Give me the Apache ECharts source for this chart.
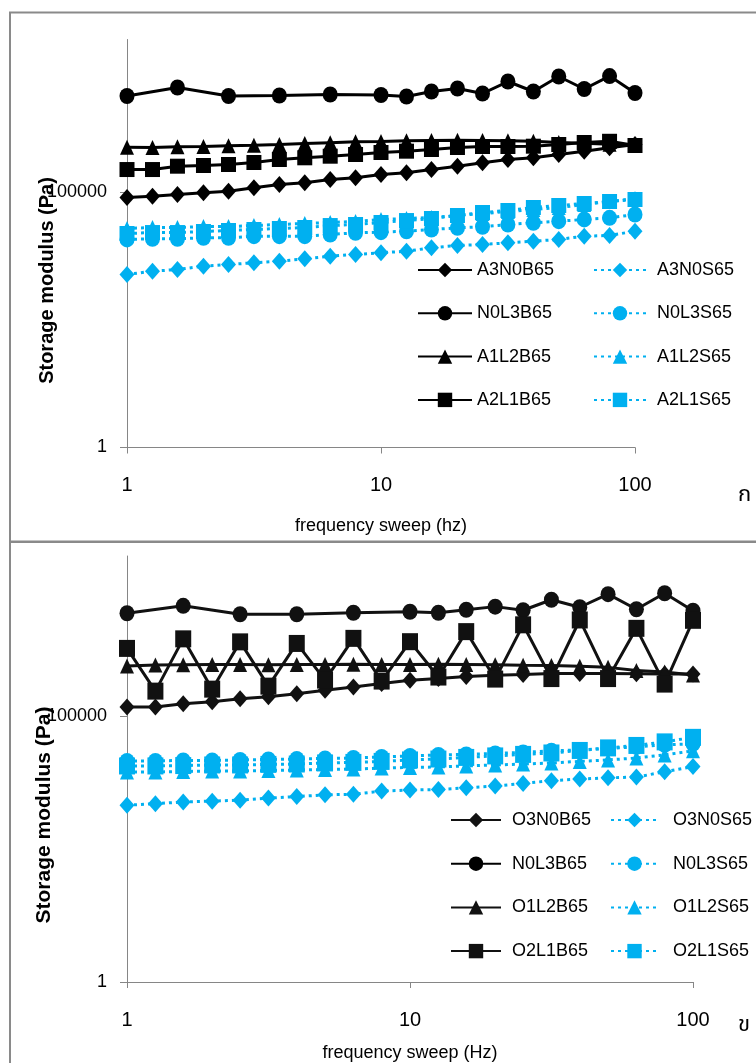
<!DOCTYPE html>
<html>
<head>
<meta charset="utf-8">
<script src="https://cdn.jsdelivr.net/npm/echarts@6/dist/echarts.min.js"></script>
<style>
html,body{margin:0;padding:0;background:#fff;}
#c{width:756px;height:1063px;}
</style>
</head>
<body>
<div id="c"></div>
<script>
// frequency points (Hz)
const freq = [1, 1.26, 1.58, 2, 2.51, 3.16, 3.98, 5.01, 6.31, 7.94, 10, 12.6, 15.8, 20, 25.1, 31.6, 39.8, 50.1, 63.1, 79.4, 100];
const xTicks = [1, 10, 100];
const yTicks = [1, 100000];

// ---- chart ก (top) ----
const A3N0B65 = [79800, 84600, 91400, 98700, 106000, 124000, 144000, 155000, 180000, 194000, 225000, 243000, 282000, 328000, 382000, 444000, 479000, 556000, 646000, 752000, 874000];
const A3N0S65 = [2470, 2860, 3090, 3590, 3870, 4190, 4500, 5010, 5640, 6090, 6570, 7060, 8240, 9140, 9550, 10300, 11100, 12000, 13900, 14400, 17400];
const N0L3B65 = [7800000, null, 11450000, null, 7800000, null, 7980000, null, 8350000, null, 8160000, 7630000, 9550000, 10940000, 8740000, 15000000, 9550000, 18800000, 10700000, 19200000, 8930000];
const N0L3S65 = [12000, 12400, 12400, 12900, 12900, 13900, 13900, 13900, 15000, 16200, 16700, 17400, 18800, 20300, 21300, 23600, 25500, 27400, 29600, 31900, 37000];
const A1L2B65 = [770000, 760000, 790000, 800000, 830000, 840000, 870000, 910000, 950000, 990000, 1000000, 1040000, 1050000, 1060000, 1050000, 1040000, 1010000, 960000, 920000, 880000, 850000];
const A1L2S65 = [19700, 20600, 20600, 21500, 21500, 22500, 23600, 24700, 25800, 27000, 29600, 30900, 32400, 35400, 38700, 42400, 46400, 50800, 58200, 66600, 76300];
const A2L1B65 = [282000, 282000, 328000, 338000, 354000, 387000, 444000, 479000, 515000, 556000, 608000, 646000, 697000, 763000, 798000, 798000, 809000, 874000, 955000, 1010000, 835000];
const A2L1S65 = [15700, 16400, 16400, 17200, 18000, 18800, 19700, 20600, 22500, 23600, 25800, 28200, 30900, 35400, 40500, 44400, 50800, 55600, 60800, 66600, 72900];

// ---- chart ข (bottom) ----
const O3N0B65 = [146000, 146000, 168000, 184000, 209000, 228000, 260000, 300000, 348000, 402000, 463000, 499000, 544000, 576000, 594000, 620000, 620000, 620000, 615000, 610000, 605000];
const O3N0S65 = [2090, 2230, 2410, 2490, 2600, 2840, 3030, 3270, 3350, 3850, 4020, 4120, 4440, 4780, 5350, 6040, 6470, 6820, 7060, 8850, 11100];
const N0L3B65b = [8410000, null, 11600000, null, 8050000, null, 8050000, null, 8590000, null, 8980000, 8590000, 9790000, 11200000, 9580000, 15100000, 10900000, 19200000, 10000000, 20000000, 9370000];
const N0L3S65b = [14200, 14200, 14500, 14500, 14800, 15100, 15400, 15800, 16100, 16800, 17600, 18400, 18800, 19600, 20500, 21900, 22800, 24400, 26000, 28400, 29600];
const O1L2B65 = [860000, 900000, 910000, 920000, 920000, 910000, 920000, 920000, 930000, 920000, 920000, 930000, 920000, 910000, 890000, 880000, 850000, 810000, 710000, 660000, 580000];
const O1L2S65 = [8770, 8770, 8970, 9170, 9170, 9370, 9580, 9790, 10000, 10400, 10700, 10900, 11400, 11900, 12400, 13000, 13900, 14800, 16100, 18400, 21900];
const O2L1B65 = [1840000, 290000, 2780000, 316000, 2440000, 360000, 2280000, 468000, 2840000, 448000, 2460000, 533000, 3800000, 488000, 5100000, 499000, 6290000, 499000, 4380000, 393000, 6200000];
const O2L1S65 = [11400, 11400, 11600, 11900, 11900, 12200, 12400, 13000, 13300, 13900, 14800, 15400, 16500, 17600, 18800, 20000, 22300, 24900, 27700, 32300, 39300];

const legendTopB = ['A3N0B65','N0L3B65','A1L2B65','A2L1B65'];
const legendTopS = ['A3N0S65','N0L3S65','A1L2S65','A2L1S65'];
const legendBotB = ['O3N0B65','N0L3B65','O1L2B65','O2L1B65'];
const legendBotS = ['O3N0S65','N0L3S65','O1L2S65','O2L1S65'];

const FONT = '"Liberation Sans", Arial, sans-serif';
const BLUE = '#00B0F0';

function pairs(vals) {
  return freq.map((f, i) => vals[i] == null ? null : [f, vals[i]]).filter(Boolean);
}

const markers = {
  diamond: {symbol: 'diamond', size: [15, 17]},
  circle: {symbol: 'circle', size: [15, 16]},
  triangle: {symbol: 'triangle', size: [14, 15]},
  rect: {symbol: 'rect', size: [15, 15]}
};

function mkSeries(name, vals, shape, blue, g, bigger) {
  const m = markers[shape];
  let sz = m.size;
  if (bigger && shape === 'rect') sz = [16, 17];
  const black = g === 0 ? '#000' : '#111';
  return {
    name: name,
    type: 'line',
    xAxisIndex: g,
    yAxisIndex: g,
    data: pairs(vals),
    symbol: m.symbol,
    symbolSize: sz,
    showSymbol: true,
    animation: false,
    z: blue ? 2 : 3,
    lineStyle: blue ? {color: BLUE, width: 3, type: [3, 4]} : {color: black, width: 3, type: 'solid'},
    itemStyle: {color: blue ? BLUE : black},
    emphasis: {disabled: true}
  };
}

const series = [
  mkSeries('A3N0B65', A3N0B65, 'diamond', false, 0),
  mkSeries('A3N0S65', A3N0S65, 'diamond', true, 0),
  mkSeries('N0L3B65', N0L3B65, 'circle', false, 0),
  mkSeries('N0L3S65', N0L3S65, 'circle', true, 0),
  mkSeries('A1L2B65', A1L2B65, 'triangle', false, 0),
  mkSeries('A1L2S65', A1L2S65, 'triangle', true, 0),
  mkSeries('A2L1B65', A2L1B65, 'rect', false, 0),
  mkSeries('A2L1S65', A2L1S65, 'rect', true, 0),
  mkSeries('O3N0B65', O3N0B65, 'diamond', false, 1),
  mkSeries('O3N0S65', O3N0S65, 'diamond', true, 1),
  mkSeries('N0L3B65', N0L3B65b, 'circle', false, 1),
  mkSeries('N0L3S65', N0L3S65b, 'circle', true, 1),
  mkSeries('O1L2B65', O1L2B65, 'triangle', false, 1),
  mkSeries('O1L2S65', O1L2S65, 'triangle', true, 1),
  mkSeries('O2L1B65', O2L1B65, 'rect', false, 1, true),
  mkSeries('O2L1S65', O2L1S65, 'rect', true, 1, true)
];

const axisLineStyle = {color: '#868686', width: 1};

function xAx(g, name, gap) {
  return {
    gridIndex: g, type: 'log', logBase: 10, min: 1, max: 100,
    axisLine: {show: true, lineStyle: axisLineStyle},
    axisTick: {show: true, length: 6, lineStyle: axisLineStyle, customValues: xTicks},
    axisLabel: {fontSize: 20, color: '#000', fontFamily: FONT, margin: 28, customValues: xTicks,
      formatter: v => String(Math.round(v))},
    splitLine: {show: false}, minorTick: {show: false}, minorSplitLine: {show: false},
    name: name, nameLocation: 'middle', nameGap: gap, nameMoveOverlap: false,
    nameTextStyle: {fontSize: 18, color: '#000', fontFamily: FONT}
  };
}
function yAx(g, gap, shift, fs) {
  return {
    gridIndex: g, type: 'log', logBase: 100000, min: 1, max: 100000000,
    axisLine: {show: true, lineStyle: axisLineStyle},
    axisTick: {show: true, length: 7, lineStyle: axisLineStyle, customValues: yTicks},
    axisLabel: {fontSize: 18, color: '#000', fontFamily: FONT, margin: 20, customValues: yTicks,
      formatter: v => String(Math.round(v))},
    splitLine: {show: false}, minorTick: {show: false}, minorSplitLine: {show: false},
    name: 'Storage modulus (Pa)', nameLocation: 'middle', nameGap: gap, nameMoveOverlap: false,
    nameTextStyle: {fontSize: fs, fontWeight: 'bold', color: '#000', fontFamily: FONT, padding: [0, shift, 0, 0]}
  };
}

function legendCol(names, left, top, w, gap, textPad) {
  return {
    orient: 'vertical', left: left, top: top, padding: 0,
    itemWidth: w, itemHeight: 18, itemGap: gap,
    selectedMode: false,
    data: names,
    textStyle: {fontSize: 18, color: '#000', fontFamily: FONT, padding: [0, 0, 0, textPad]}
  };
}

const option = {
  backgroundColor: '#fff',
  animation: false,
  grid: [
    {left: 127, top: 39.5, width: 508, height: 408},
    {left: 127, top: 556, width: 566, height: 426}
  ],
  xAxis: [xAx(0, 'frequency sweep (hz)', 70), xAx(1, 'frequency sweep (Hz)', 62)],
  yAxis: [yAx(0, 70, 74, 20), yAx(1, 72, 92, 21)],
  legend: [
    legendCol(legendTopB, 417, 261, 54, 25.3, 0),
    legendCol(legendTopS, 593, 261, 52, 25.3, 6),
    legendCol(legendBotB, 450, 811, 50, 25.7, 6),
    legendCol(legendBotS, 610, 811, 47, 25.7, 10)
  ],
  graphic: [
    {type: 'rect', shape: {x: 10, y: 12.5, width: 780, height: 529}, style: {fill: 'none', stroke: '#8a8a8a', lineWidth: 2}, silent: true, z: -1},
    {type: 'rect', shape: {x: 10, y: 542, width: 780, height: 560}, style: {fill: 'none', stroke: '#8a8a8a', lineWidth: 2}, silent: true, z: -1},
    {type: 'text', left: 738, top: 486, style: {text: 'ก', fontSize: 22, fill: '#000', fontFamily: '"Noto Sans Thai", "Noto Sans", sans-serif'}, silent: true},
    {type: 'text', left: 738, top: 1016, style: {text: 'ข', fontSize: 22, fill: '#000', fontFamily: '"Noto Sans Thai", "Noto Sans", sans-serif'}, silent: true}
  ],
  series: series
};

const chart = echarts.init(document.getElementById('c'), null, {renderer: 'canvas'});
chart.setOption(option);
</script>
</body>
</html>
